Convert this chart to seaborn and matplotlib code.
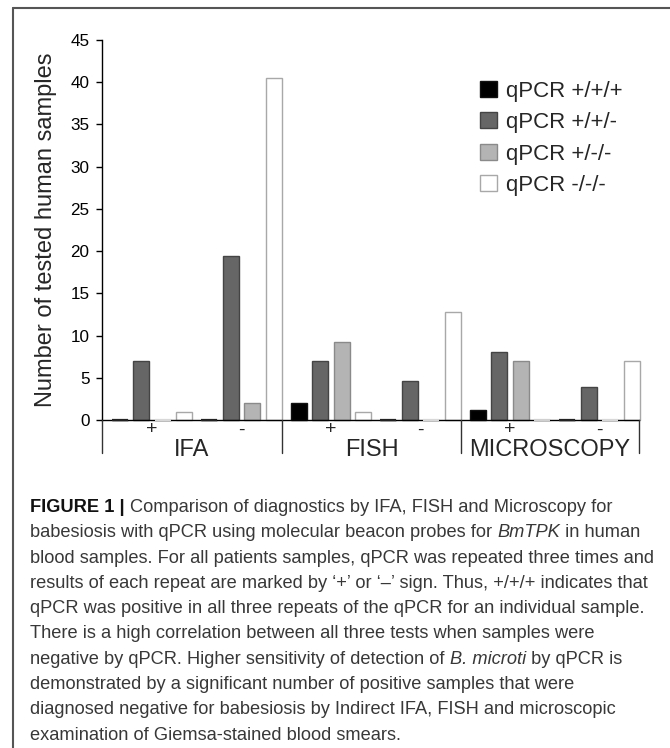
import matplotlib
matplotlib.use("Agg")
import matplotlib.pyplot as plt
import seaborn as sns
import pandas as pd
from matplotlib.patches import Patch
from matplotlib.lines import Line2D

# ---- data ----
groups = ["IFA", "FISH", "MICROSCOPY"]
results = ["+", "-"]
series = ["qPCR +/+/+", "qPCR +/+/-", "qPCR +/-/-", "qPCR -/-/-"]
# values per series, across IFA+, IFA-, FISH+, FISH-, MICROSCOPY+, MICROSCOPY-
v_ppp = [0, 0, 2, 0, 1.2, 0]
v_ppm = [7.0, 19.4, 7.0, 4.6, 8.0, 3.95]
v_pmm = [0, 2, 9.2, 0, 7.0, 0]
v_mmm = [1, 40.5, 1, 12.8, 0, 7.0]
yticks = [0, 5, 10, 15, 20, 25, 30, 35, 40, 45]

fills = ["#000000", "#666666", "#b4b4b4", "#ffffff"]
edges = ["#111111", "#444444", "#8a8a8a", "#a8a8a8"]
zero_cols = ["#222222", "#444444", "#d8d8d8", "#d0d0d0"]

subs = [f"{g} {r}" for g in groups for r in results]
rows = []
for s, vals in zip(series, [v_ppp, v_ppm, v_pmm, v_mmm]):
    for sub, v in zip(subs, vals):
        rows.append({"sub": sub, "series": s, "value": v})
df = pd.DataFrame(rows)

sns.set_theme(style="white")
plt.rcParams["font.family"] = ["Liberation Sans", "DejaVu Sans"]

W, H = 670, 748
fig = plt.figure(figsize=(W / 100, H / 100), dpi=100)
ax = fig.add_axes([102 / W, (H - 420) / H, 537 / W, 380 / H])

sns.barplot(data=df, x="sub", y="value", hue="series", order=subs,
            hue_order=series, palette=fills, width=0.965, gap=0.26,
            linewidth=1, edgecolor="#444444", ax=ax, legend=False)
for cont, ec, zc in zip(ax.containers, edges, zero_cols):
    for p in cont:
        p.set_edgecolor(ec)
        p.set_clip_on(False)
        if p.get_height() == 0:
            ax.plot([p.get_x(), p.get_x() + p.get_width()], [0, 0],
                    color=zc, lw=1.6, zorder=5, clip_on=False,
                    solid_capstyle="butt")

ax.set_xlim(-0.559, 5.441)
ax.set_ylim(0, 45)
ax.set_yticks(yticks)
ax.tick_params(axis="y", labelsize=12.3, length=4, width=1, pad=5,
               colors="black", left=True)
ax.set_xticks(range(len(subs)))
ax.set_xticklabels([r for g in groups for r in results], fontsize=14)
ax.tick_params(axis="x", length=0, pad=1)
ax.set_xlabel("")
ax.set_ylabel("Number of tested human samples", fontsize=17, labelpad=10)
for sp in ["top", "right"]:
    ax.spines[sp].set_visible(False)
for sp in ["left", "bottom"]:
    ax.spines[sp].set_color("black")
    ax.spines[sp].set_linewidth(1)

# group separators and labels
bounds = [-0.559, 1.453, 3.453, 5.441]
trans = ax.get_xaxis_transform()
for b in bounds:
    ax.plot([b, b], [0, -33 / 380], transform=trans, color="#333333",
            lw=1, clip_on=False, zorder=6)
for i, g in enumerate(groups):
    ax.text((bounds[i] + bounds[i + 1]) / 2, -29.5 / 380, g, transform=trans,
            ha="center", va="center", fontsize=17)

# legend
handles = [Patch(facecolor=f, edgecolor=e, linewidth=1) for f, e in zip(fills, edges)]
ax.legend(handles, series, loc="upper left", bbox_to_anchor=(0.704, 0.893),
          frameon=False, fontsize=16, handlelength=0.75, handleheight=0.75,
          handletextpad=0.42, labelspacing=0.47, borderpad=0, borderaxespad=0)

# frame lines
fig.add_artist(Line2D([13 / W, 13 / W], [0, 1 - 8 / H], transform=fig.transFigure,
                      color="#555555", lw=1.5))
fig.add_artist(Line2D([13 / W, 1], [1 - 8 / H, 1 - 8 / H], transform=fig.transFigure,
                      color="#555555", lw=1.5))

# caption
cap_family = ["Liberation Sans", "DejaVu Sans"]
cap_size = 13.15
cap_color = "#383838"
lines = [
    [("FIGURE 1 | ", "bold", "normal", "#111111"),
     ("Comparison of diagnostics by IFA, FISH and Microscopy for", "normal", "normal", cap_color)],
    [("babesiosis with qPCR using molecular beacon probes for ", "normal", "normal", cap_color),
     ("BmTPK", "normal", "italic", cap_color),
     (" in human", "normal", "normal", cap_color)],
    [("blood samples. For all patients samples, qPCR was repeated three times and", "normal", "normal", cap_color)],
    [("results of each repeat are marked by \u2018+\u2019 or \u2018\u2013\u2019 sign. Thus, +/+/+ indicates that", "normal", "normal", cap_color)],
    [("qPCR was positive in all three repeats of the qPCR for an individual sample.", "normal", "normal", cap_color)],
    [("There is a high correlation between all three tests when samples were", "normal", "normal", cap_color)],
    [("negative by qPCR. Higher sensitivity of detection of ", "normal", "normal", cap_color),
     ("B. microti", "normal", "italic", cap_color),
     (" by qPCR is", "normal", "normal", cap_color)],
    [("demonstrated by a significant number of positive samples that were", "normal", "normal", cap_color)],
    [("diagnosed negative for babesiosis by Indirect IFA, FISH and microscopic", "normal", "normal", cap_color)],
    [("examination of Giemsa-stained blood smears.", "normal", "normal", cap_color)],
]
base0 = 512
step = 25.3
for i, segs in enumerate(lines):
    yb = 1 - (base0 + i * step) / H
    prev = None
    for txt, wt, st, col in segs:
        kw = dict(fontsize=cap_size, family=cap_family, weight=wt, style=st,
                  color=col, va="baseline", ha="left")
        if prev is None:
            prev = fig.text(30 / W, yb, txt, **kw)
        else:
            prev = ax.annotate(txt, xy=(1, yb), xycoords=(prev, "figure fraction"),
                               annotation_clip=False, **kw)

fig.savefig("out.png", dpi=100)
